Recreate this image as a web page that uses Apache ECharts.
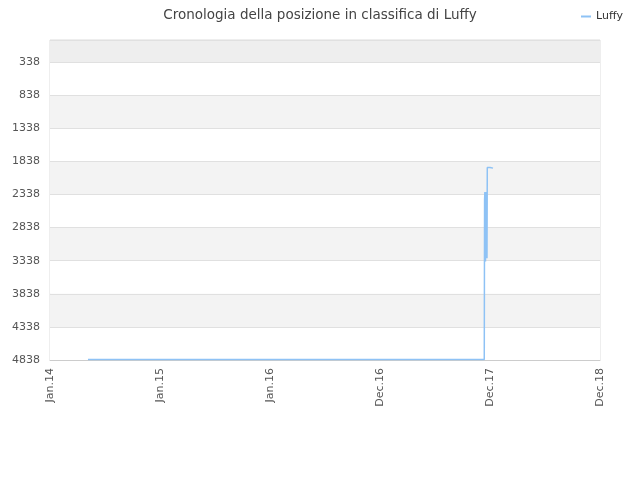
<!DOCTYPE html>
<html>
<head>
<meta charset="utf-8">
<script src="https://cdn.jsdelivr.net/npm/echarts@6/dist/echarts.min.js"></script>
<style>
  html, body { margin: 0; padding: 0; background: #fff; }
  #chart { width: 640px; height: 480px; }
</style>
</head>
<body>
<div id="chart"></div>
<script>
// dati
const seriesName = 'Luffy';
const dates = ['2014-05-07', '2017-12-12', '2017-12-13', '2017-12-14', '2017-12-15', '2017-12-16',
  '2017-12-17', '2017-12-18', '2017-12-19', '2017-12-20', '2017-12-21', '2017-12-22',
  '2017-12-23', '2017-12-25', '2017-12-28', '2017-12-31', '2018-01-03', '2018-01-06', '2018-01-10'];
const ranks = [4830, 4830, 2420, 2300, 2600, 3350, 2350, 3250, 2300, 3150, 3300, 1930,
  1900, 1910, 1920, 1930, 1930, 1940, 1940];
const yTicks = [338, 838, 1338, 1838, 2338, 2838, 3338, 3838, 4338, 4838];
const yMin = 5;
const startDate = '2014-01-01';
const xDays = 1825;
const xStep = 365;
const monthNames = ['Jan', 'Feb', 'Mar', 'Apr', 'May', 'Jun', 'Jul', 'Aug', 'Sep', 'Oct', 'Nov', 'Dec'];

const DAY = 86400000;
const t0 = Date.parse(startDate + 'T00:00:00Z');
const toDay = s => (Date.parse(s + 'T00:00:00Z') - t0) / DAY;

let data = dates.map((d, i) => [toDay(d), ranks[i]]);

let chart = echarts.init(document.getElementById('chart'));
let option = {
  animation: false,
  textStyle: { fontFamily: 'DejaVu Sans' },
  title: {
    text: 'Cronologia della posizione in classifica di Luffy',
    left: 'center',
    top: 3,
    textStyle: { fontSize: 13.5, fontWeight: 'normal', color: '#444', fontFamily: 'DejaVu Sans' }
  },
  legend: {
    right: 12,
    top: 6,
    itemWidth: 10,
    itemHeight: 2,
    itemGap: 5,
    data: [{ name: seriesName, icon: 'rect' }],
    textStyle: { fontSize: 11, color: '#333', fontFamily: 'DejaVu Sans' }
  },
  grid: {
    left: 50, right: 40, top: 40, bottom: 120,
    show: true, borderColor: '#ddd', borderWidth: 1
  },
  xAxis: {
    type: 'value',
    min: 0,
    max: xDays,
    interval: xStep,
    axisLine: { lineStyle: { color: '#ccc' } },
    axisTick: { show: false },
    splitLine: { show: false },
    axisLabel: {
      rotate: 90,
      fontSize: 11,
      color: '#555',
      margin: 8,
      formatter: v => {
        let d = new Date(t0 + v * DAY);
        return monthNames[d.getUTCMonth()] + '.' + String(d.getUTCFullYear()).slice(2);
      }
    }
  },
  yAxis: {
    type: 'value',
    inverse: true,
    min: yMin,
    max: yTicks[yTicks.length - 1],
    axisLine: { show: false },
    axisTick: { show: false, customValues: [yMin].concat(yTicks) },
    axisLabel: { customValues: yTicks, fontSize: 11, color: '#555', margin: 10, formatter: v => String(v) },
    splitLine: { show: true, lineStyle: { color: '#e0e0e0' } },
    splitArea: {
      show: true,
      areaStyle: { color: ['#eeeeee', '#ffffff', '#f3f3f3', '#ffffff', '#f3f3f3', '#ffffff', '#f3f3f3', '#ffffff', '#f3f3f3', '#ffffff'] }
    }
  },
  series: [{
    name: seriesName,
    type: 'line',
    data: data,
    showSymbol: false,
    color: '#8ec2f5',
    lineStyle: { width: 1.5, color: '#8ec2f5' }
  }]
};
chart.setOption(option);
</script>
</body>
</html>
